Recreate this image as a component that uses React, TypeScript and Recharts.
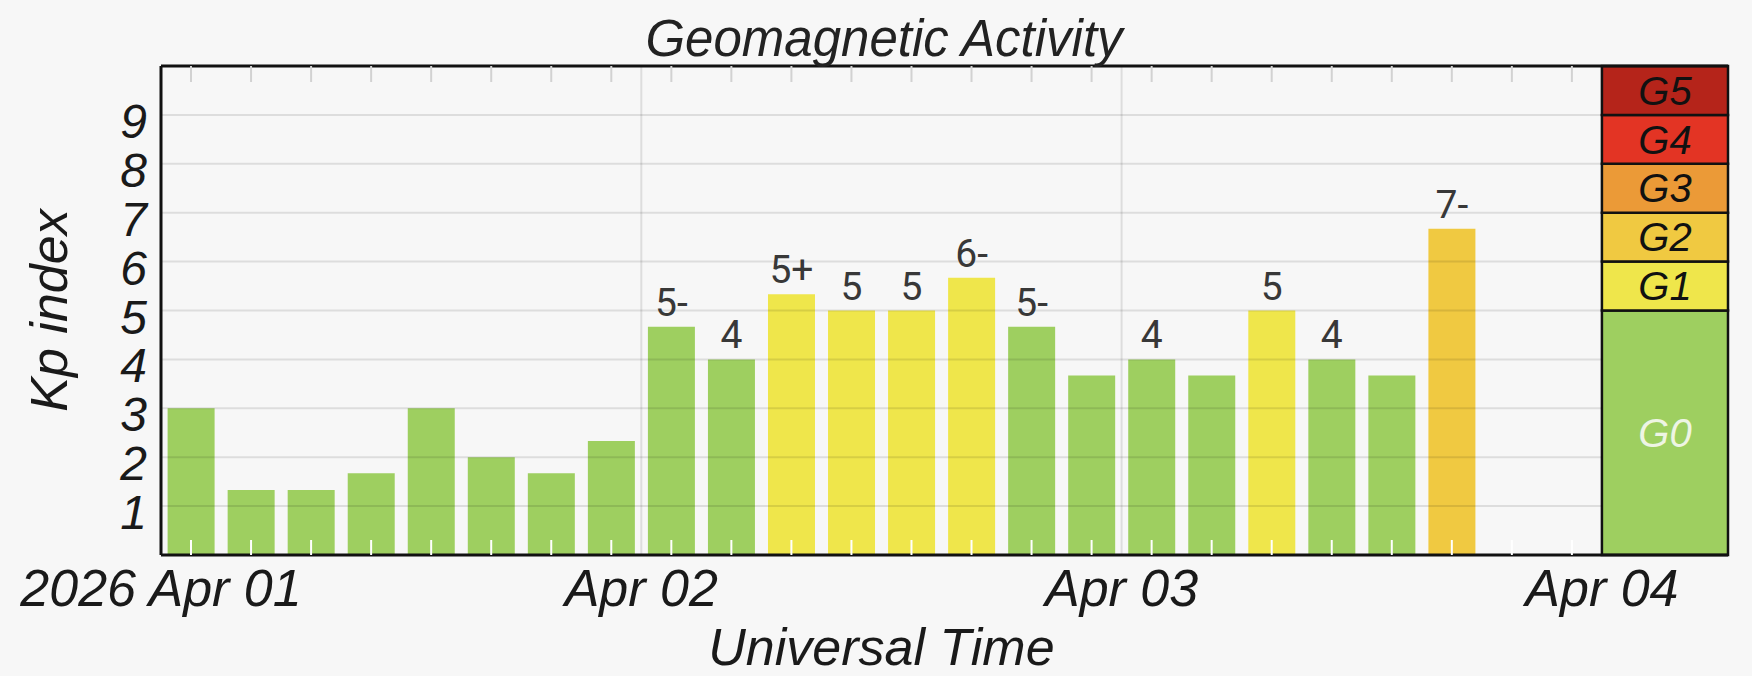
import { Bar, BarChart, Cell, LabelList, ReferenceArea, ReferenceLine, XAxis, YAxis } from 'recharts'

// 3-hour Kp values, 2026 Apr 01 00 UT onwards
const KP_VALUES = [3, 1.33, 1.33, 1.67, 3, 2, 1.67, 2.33, 4.67, 4, 5.33, 5, 5, 5.67, 4.67, 3.67, 4, 3.67, 5, 4, 3.67, 6.67]
const KP_LABELS = ['', '', '', '', '', '', '', '', '5-', '4', '5+', '5', '5', '6-', '5-', '', '4', '', '5', '4', '', '7-']

const DAY_TICKS = [0, 8, 16, 24]
const DAY_LABELS = ['2026 Apr 01', 'Apr 02', 'Apr 03', 'Apr 04']
const Y_TICKS = [1, 2, 3, 4, 5, 6, 7, 8, 9]

const G_LEVELS = ['G0', 'G1', 'G2', 'G3', 'G4', 'G5']
const G_FROM = [0, 5, 6, 7, 8, 9]
const G_TO = [5, 6, 7, 8, 9, 10]
const G_COLORS = ['#9ecf60', '#efe64b', '#f0c941', '#eb9a37', '#e33424', '#b5241a']

const SLOTS = 24
const SLOT_CENTERS = Array.from({ length: SLOTS }, (_, i) => i + 0.5)
const SCALE_END = 26.1

const WIDTH = 1752
const HEIGHT = 676
const FONT = '"Liberation Sans", Arial, sans-serif'
const INK = '#1a1a1a'
const GRID = 'rgba(0,0,0,0.1)'

const data = KP_VALUES.map((kp, i) => ({ slot: i + 0.5, kp, label: KP_LABELS[i] }))

function gColor(kp: number) {
  const level = kp < 5 ? 0 : Math.floor(kp) - 4
  return G_COLORS[Math.min(level, G_COLORS.length - 1)]
}

function XTitle({ viewBox }: any) {
  const cx = viewBox.x + (viewBox.width * (SLOTS / SCALE_END)) / 2
  return (
    <text x={cx} y={HEIGHT - 11} textAnchor="middle" fill={INK} fontSize={52} fontStyle="italic" fontFamily={FONT}>
      Universal Time
    </text>
  )
}

function YTitle({ viewBox }: any) {
  const cx = 67
  const cy = viewBox.y + viewBox.height / 2
  return (
    <text
      x={cx}
      y={cy}
      transform={`rotate(-90 ${cx} ${cy})`}
      textAnchor="middle"
      fill={INK}
      fontSize={52}
      fontStyle="italic"
      fontFamily={FONT}
    >
      Kp index
    </text>
  )
}

const noLabel = () => ''

export default function App() {
  return (
    <div style={{ position: 'fixed', left: 0, top: 0, width: WIDTH, height: HEIGHT, background: '#f7f7f7' }}>
      <BarChart
        width={WIDTH}
        height={HEIGHT}
        data={data}
        margin={{ top: 66, right: 24, bottom: 0, left: 0 }}
        barCategoryGap="11%"
      >
        <XAxis
          dataKey="slot"
          type="number"
          domain={[0, SCALE_END]}
          allowDataOverflow
          ticks={DAY_TICKS}
          interval={0}
          tickFormatter={(v) => DAY_LABELS[DAY_TICKS.indexOf(v)]}
          height={121}
          tickLine={false}
          tickSize={6}
          tickMargin={8}
          axisLine={{ stroke: '#111', strokeWidth: 3 }}
          tick={{ fill: INK, fontSize: 52, fontStyle: 'italic', fontFamily: FONT }}
          label={<XTitle />}
        />
        <XAxis
          xAxisId="top"
          orientation="top"
          mirror
          dataKey="slot"
          type="number"
          domain={[0, SCALE_END]}
          allowDataOverflow
          ticks={SLOT_CENTERS}
          interval={0}
          height={1}
          tickFormatter={noLabel}
          tickSize={16}
          tickLine={{ stroke: '#d2d2d2', strokeWidth: 2 }}
          axisLine={{ stroke: '#111', strokeWidth: 3 }}
        />
        <XAxis
          xAxisId="inner"
          orientation="bottom"
          mirror
          dataKey="slot"
          type="number"
          domain={[0, SCALE_END]}
          allowDataOverflow
          ticks={SLOT_CENTERS}
          interval={0}
          height={1}
          tickFormatter={noLabel}
          tickSize={15}
          tickLine={{ stroke: '#ffffff', strokeWidth: 2 }}
          axisLine={false}
        />
        <YAxis
          type="number"
          domain={[0, 10]}
          ticks={Y_TICKS}
          interval={0}
          width={161}
          tickLine={false}
          tickSize={6}
          tickMargin={8}
          axisLine={{ stroke: '#111', strokeWidth: 3 }}
          tick={{ fill: INK, fontSize: 48, fontStyle: 'italic', fontFamily: FONT, dy: 6 }}
          label={<YTitle />}
        />
        <Bar dataKey="kp" isAnimationActive={false}>
          {data.map((d) => (
            <Cell key={d.slot} fill={gColor(d.kp)} />
          ))}
          <LabelList dataKey="label" position="top" offset={11} fill="#383838" fontSize={39} fontFamily="Roboto, sans-serif" />
        </Bar>
        {Y_TICKS.map((y) => (
          <ReferenceLine key={`h${y}`} segment={[{ x: 0, y }, { x: SLOTS, y }]} stroke={GRID} strokeWidth={2} />
        ))}
        {DAY_TICKS.slice(1, 3).map((x) => (
          <ReferenceLine key={`v${x}`} x={x} stroke={GRID} strokeWidth={2} />
        ))}
        {G_LEVELS.map((g, i) => (
          <ReferenceArea
            key={g}
            x1={SLOTS}
            x2={SCALE_END}
            y1={G_FROM[i]}
            y2={G_TO[i]}
            fill={G_COLORS[i]}
            fillOpacity={1}
            stroke="#111"
            strokeWidth={2.5}
            label={{
              value: g,
              position: 'center',
              fill: i === 0 ? '#eef5e4' : '#111',
              fontSize: 40,
              fontStyle: 'italic',
              fontFamily: FONT,
            }}
          />
        ))}
      </BarChart>
      <svg width={WIDTH} height={70} style={{ position: 'absolute', left: 0, top: 0, pointerEvents: 'none' }}>
        <text x={884} y={56} textAnchor="middle" fill="#222" fontSize={51} fontStyle="italic" fontFamily={FONT}>
          Geomagnetic Activity
        </text>
      </svg>
    </div>
  )
}
